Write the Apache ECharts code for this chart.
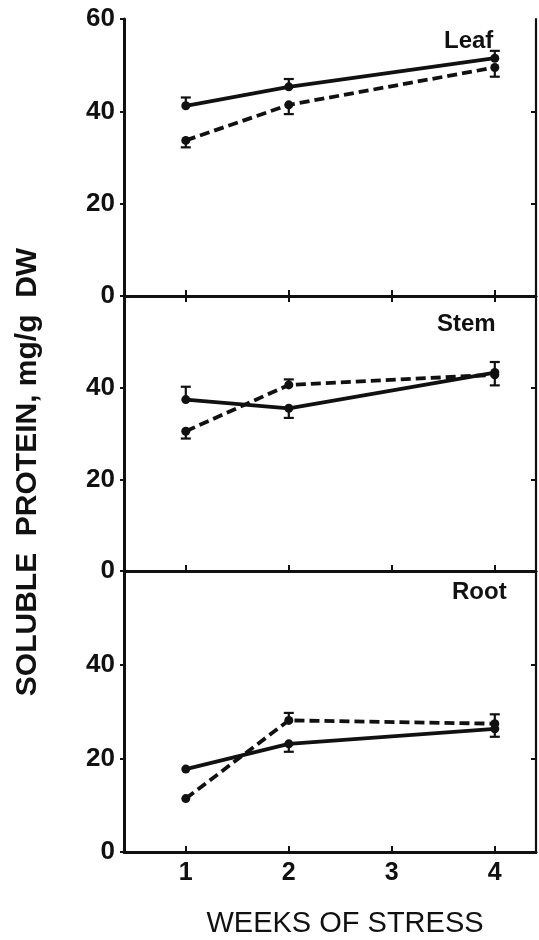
<!DOCTYPE html>
<html>
<head>
<meta charset="utf-8">
<script src="https://cdn.jsdelivr.net/npm/echarts@6/dist/echarts.min.js"></script>
<style>
  html, body { margin: 0; padding: 0; background: #fff; }
  #chart { width: 539px; height: 940px; }
</style>
</head>
<body>
<div id="chart"></div>
<script>
// weeks of stress (x)
const weeks = [1, 2, 4]
const xTicks = [1, 2, 3, 4]
const yTicks = [0, 20, 40, 60]
const panelNames = ['Leaf', 'Stem', 'Root']

// solid line / dashed line means, mg/g DW
const leafSolid = [41.2, 45.3, 51.5]
const leafDashed = [33.7, 41.4, 49.5]
const stemSolid = [37.4, 35.5, 43.3]
const stemDashed = [30.5, 40.6, 42.8]
const rootSolid = [17.7, 23.1, 26.3]
const rootDashed = [11.4, 28.1, 27.4]

// one-sided error bars (+ up, - down, 0 none)
const leafSolidErr = [1.8, 1.7, 1.6]
const leafDashedErr = [-1.5, -2.0, -2.0]
const stemSolidErr = [2.8, -2.1, 2.3]
const stemDashedErr = [-1.6, 1.2, -2.3]
const rootSolidErr = [0, -1.7, -1.7]
const rootDashedErr = [0, 1.6, 2.0]

const panels = [
  { solid: leafSolid, dashed: leafDashed, sErr: leafSolidErr, dErr: leafDashedErr },
  { solid: stemSolid, dashed: stemDashed, sErr: stemSolidErr, dErr: stemDashedErr },
  { solid: rootSolid, dashed: rootDashed, sErr: rootSolidErr, dErr: rootDashedErr }
]

const font = 'Liberation Sans, Arial, sans-serif'
const ink = '#111'
const grids = [
  { left: 124, right: 3, top: 19, height: 277 },
  { left: 124, right: 3, top: 296, height: 275 },
  { left: 124, right: 3, top: 571, height: 281 }
]

const chart = echarts.init(document.getElementById('chart'))

const xAxis = []
const yAxis = []
const series = []

grids.forEach((g, i) => {
  const last = i === grids.length - 1
  xAxis.push({
    type: 'value', gridIndex: i, min: 0.4, max: 4.4, position: 'bottom',
    axisLine: { show: true, lineStyle: { color: ink, width: 2.8 } },
    axisTick: { show: true, inside: true, length: 6, customValues: xTicks, lineStyle: { color: ink, width: 2 } },
    axisLabel: {
      show: last, customValues: xTicks, margin: 9,
      color: ink, fontFamily: font, fontWeight: 'bold', fontSize: 25
    },
    splitLine: { show: false }
  })
  xAxis.push({
    type: 'value', gridIndex: i, min: 0.4, max: 4.4, position: 'top',
    axisLine: { show: true, lineStyle: { color: ink, width: 2.5 } },
    axisTick: { show: i === 0, inside: true, length: 6, customValues: xTicks, lineStyle: { color: ink, width: 2 } },
    axisLabel: { show: false },
    splitLine: { show: false }
  })
  yAxis.push({
    type: 'value', gridIndex: i, min: 0, max: 60, position: 'left',
    axisLine: { show: true, lineStyle: { color: ink, width: 3 } },
    axisTick: { show: true, length: 4, customValues: yTicks, lineStyle: { color: ink, width: 2 } },
    axisLabel: {
      customValues: i === 0 ? yTicks : yTicks.slice(0, 3), margin: 9,
      color: ink, fontFamily: font, fontWeight: 'bold', fontSize: 26
    },
    splitLine: { show: false }
  })
  yAxis.push({
    type: 'value', gridIndex: i, min: 0, max: 60, position: 'right',
    axisLine: { show: true, lineStyle: { color: ink, width: 2.2 } },
    axisTick: { show: true, inside: true, length: 5, customValues: [20, 40], lineStyle: { color: ink, width: 2 } },
    axisLabel: { show: false },
    splitLine: { show: false }
  })

  const p = panels[i]
  const lineBase = {
    type: 'line', xAxisIndex: i * 2, yAxisIndex: i * 2,
    symbol: 'circle', symbolSize: 9, z: 3, animation: false
  }
  series.push({
    ...lineBase, name: panelNames[i] + ' solid',
    data: weeks.map((w, k) => [w, p.solid[k]]),
    itemStyle: { color: ink },
    lineStyle: { color: ink, width: 3.8, type: 'solid' }
  })
  series.push({
    ...lineBase, name: panelNames[i] + ' dashed',
    data: weeks.map((w, k) => [w, p.dashed[k]]),
    itemStyle: { color: ink },
    lineStyle: { color: ink, width: 3.8, type: [10, 5] }
  })

  const bars = []
  weeks.forEach((w, k) => {
    if (p.sErr[k]) bars.push([w, p.solid[k], p.solid[k] + p.sErr[k]])
    if (p.dErr[k]) bars.push([w, p.dashed[k], p.dashed[k] + p.dErr[k]])
  })
  series.push({
    type: 'custom', xAxisIndex: i * 2, yAxisIndex: i * 2, z: 4, animation: false,
    data: bars,
    renderItem: (params, api) => {
      const a = api.coord([api.value(0), api.value(1)])
      const b = api.coord([api.value(0), api.value(2)])
      const style = { stroke: ink, lineWidth: 2.2 }
      return {
        type: 'group',
        children: [
          { type: 'line', shape: { x1: a[0], y1: a[1], x2: b[0], y2: b[1] }, style },
          { type: 'line', shape: { x1: b[0] - 5, y1: b[1], x2: b[0] + 5, y2: b[1] }, style }
        ]
      }
    }
  })
})

chart.setOption({
  backgroundColor: '#fff',
  animation: false,
  grid: grids.map(g => ({ ...g, show: false })),
  title: [
    { text: 'Leaf', left: 439, top: 24 },
    { text: 'Stem', left: 432, top: 307 },
    { text: 'Root', left: 447, top: 575 }
  ].map(t => ({
    ...t,
    textStyle: { color: ink, fontFamily: font, fontWeight: 'bold', fontSize: 24 }
  })),
  graphic: [
    {
      type: 'text', x: 28, y: 472, rotation: Math.PI / 2,
      style: {
        text: 'SOLUBLE  PROTEIN, mg/g  DW', fill: ink, font: 'bold 30px ' + font,
        align: 'center', verticalAlign: 'middle'
      }
    },
    {
      type: 'text', x: 345, y: 924,
      style: {
        text: 'WEEKS OF STRESS', fill: ink, font: '29px ' + font,
        align: 'center', verticalAlign: 'middle'
      }
    }
  ],
  xAxis,
  yAxis,
  series
})
</script>
</body>
</html>
